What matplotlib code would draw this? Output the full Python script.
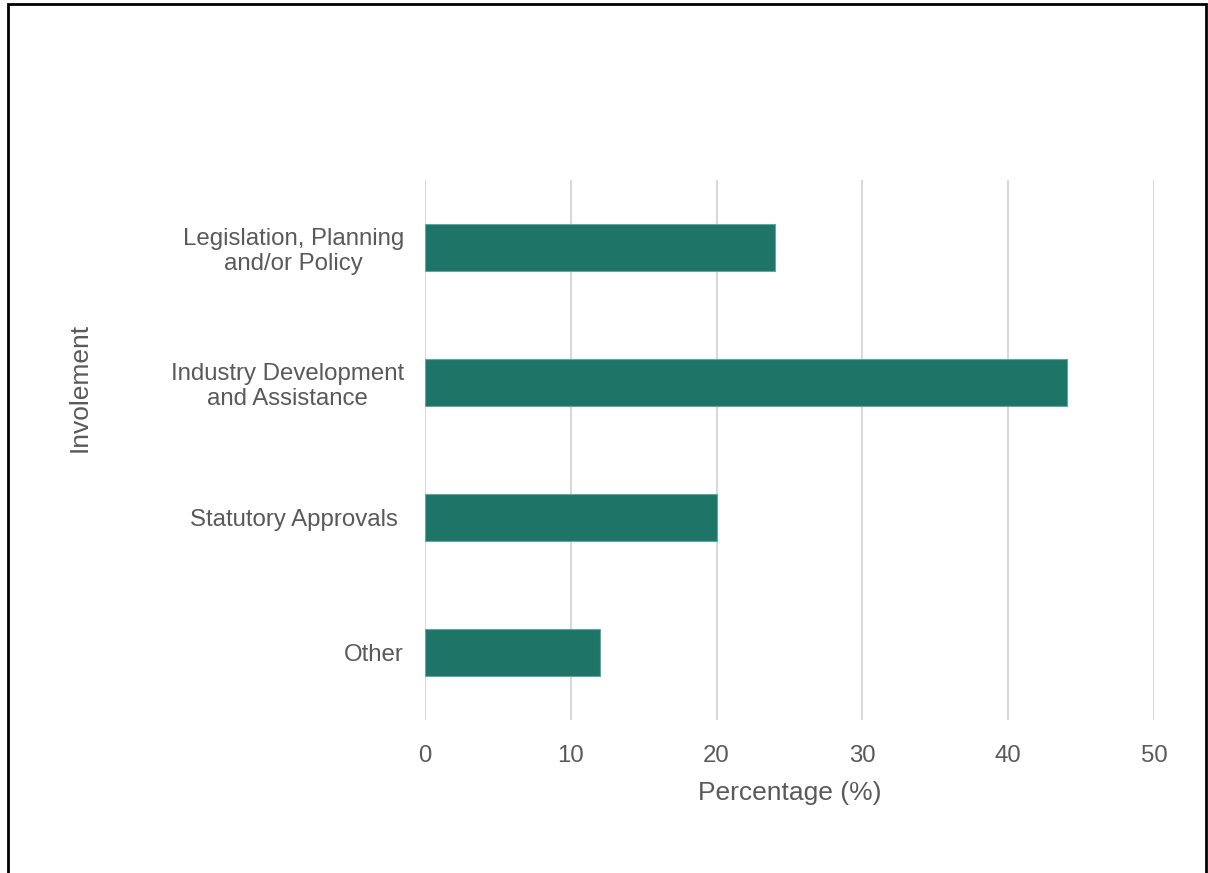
import matplotlib.pyplot as plt
from matplotlib.patches import Rectangle

plt.rcParams['font.family'] = ['Liberation Sans', 'DejaVu Sans']

categories = ["Legislation, Planning\nand/or Policy",
              "Industry Development\nand Assistance",
              "Statutory Approvals ",
              "Other"]
percentages = [24, 44, 20, 12]
x_ticks = [0, 10, 20, 30, 40, 50]

text_color = "#595959"
bar_color = "#1F7468"

fig = plt.figure(figsize=(12.08, 8.73), dpi=100)
ax = fig.add_axes([0.3518, 0.1753, 0.6035, 0.6185])

y = list(range(len(categories)))
ax.barh(y, percentages, height=0.35, color=bar_color,
        edgecolor="#5FA89B", linewidth=0.8, zorder=3)

ax.set_ylim(len(categories) - 0.5, -0.5)
ax.set_xlim(0, 50)
ax.set_xticks(x_ticks)
ax.set_yticks(y)
ax.set_yticklabels(categories, multialignment="center", linespacing=1.15)

ax.grid(axis="x", color="#D9D9D9", linewidth=1.5, zorder=0)
ax.grid(axis="y", visible=False)
for s in ax.spines.values():
    s.set_visible(False)
ax.tick_params(axis="both", length=0, labelsize=17.3, labelcolor=text_color)
ax.tick_params(axis="x", pad=18)
ax.tick_params(axis="y", pad=15)

ax.set_xlabel("Percentage (%)", fontsize=19, color=text_color, labelpad=10)
ax.set_ylabel("Involement", fontsize=19, color=text_color)
ax.yaxis.set_label_coords(-0.457, 0.615)

# black frame around the chart area (runs off the bottom edge)
fig.patches.append(Rectangle((8 / 1208, -0.05), 1198 / 1208, 1.05 - 4 / 873,
                             transform=fig.transFigure, fill=False,
                             edgecolor="black", linewidth=2))

fig.savefig("out.png", dpi=100, facecolor="white")
